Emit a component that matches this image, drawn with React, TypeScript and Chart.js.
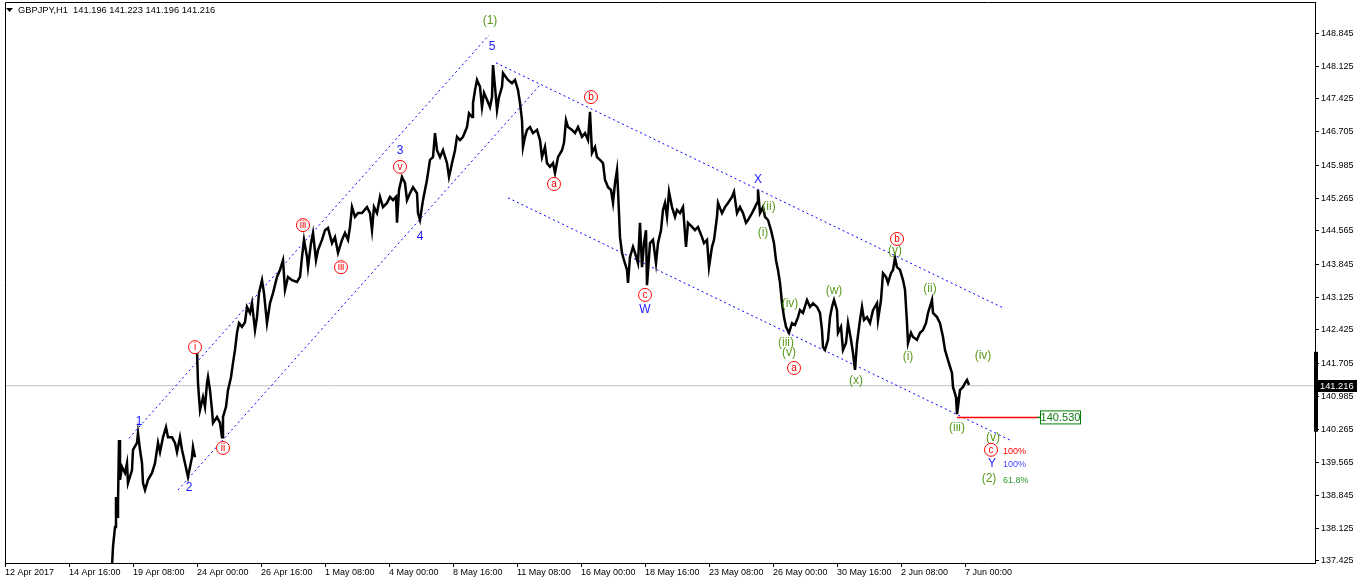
import { useEffect, useRef } from "react";
import { Chart, registerables } from "chart.js";

Chart.register(...registerables);

// ---------- header ----------
const SYMBOL = "GBPJPY,H1";
const OHLC = ["141.196", "141.223", "141.196", "141.216"];

// ---------- axes ----------
const xTickHours = [0, 64, 128, 192, 256, 320, 384, 448, 512, 576, 640, 704, 768, 832, 896, 960];
const xTickLabels = [
  "12 Apr 2017", "14 Apr 16:00", "19 Apr 08:00", "24 Apr 00:00", "26 Apr 16:00", "1 May 08:00",
  "4 May 00:00", "8 May 16:00", "11 May 08:00", "16 May 00:00", "18 May 16:00", "23 May 08:00",
  "26 May 00:00", "30 May 16:00", "2 Jun 08:00", "7 Jun 00:00",
];
const yTickValues = [
  148.845, 148.125, 147.425, 146.705, 145.985, 145.265, 144.565, 143.845, 143.125,
  142.425, 141.705, 140.985, 140.265, 139.565, 138.845, 138.125, 137.425,
];
const Y_MIN = 137.381;
const Y_MAX = 149.516;
const X_MIN = 0;
const X_MAX = 1310;

// ---------- price (hour index since 12 Apr 2017 00:00, price) ----------
const priceHours = [
  106, 108, 110, 111, 112, 113, 114, 115, 117, 120, 122, 123, 127, 128, 132, 133, 135, 137, 138, 140,
  143, 147, 150, 153, 155, 158, 161, 163, 167, 170, 172, 175, 177, 180, 183, 187, 188, 190, 191,
  192, 193, 194, 195, 198, 200, 202, 203, 205, 207, 208, 212, 215, 217, 218, 221, 223, 226, 228, 230,
  232, 234, 237, 240, 242, 245, 247, 250, 252, 254, 257, 259, 262, 265, 268, 272, 275, 278, 280, 283,
  287, 292, 295, 297, 299, 302, 303, 306, 308, 311, 313, 317, 320, 323, 327, 330, 333, 337, 340, 343,
  345, 347, 350, 353, 357, 362, 365, 367, 369, 372, 375, 378, 382, 385, 388, 391, 392, 394, 397, 400,
  402, 405, 408, 412, 413, 415, 418, 422, 425, 428, 430, 432, 435, 438, 442, 444, 447, 450, 452, 455,
  458, 462, 464, 467, 468, 470, 472, 475, 477, 479, 482, 485, 487, 488, 490, 492, 494, 497, 498, 501,
  503, 507, 510, 513, 515, 517, 518, 520, 522, 525, 528, 532, 535, 537, 540, 542, 545, 548, 550, 553,
  557, 559, 561, 563, 567, 570, 573, 577, 580, 583, 585, 587, 590, 592, 595, 598, 600, 603, 606, 608,
  610, 612, 613, 615, 617, 619, 622, 623, 625, 628, 630, 633, 635, 637, 639, 641, 642, 645, 648, 651,
  653, 656, 658, 660, 662, 664, 667, 670, 672, 675, 678, 681, 683, 687, 690, 693, 697, 699, 702, 704,
  707, 709, 712, 713, 717, 720, 723, 727, 729, 732, 735, 738, 741, 743, 747, 750, 752, 753, 755, 758,
  760, 763, 766, 769, 771, 773, 775, 777, 779, 781, 784, 787, 790, 793, 795, 798, 802, 805, 808, 812,
  815, 817, 818, 820, 823, 825, 827, 829, 832, 833, 836, 838, 841, 843, 846, 848, 850, 852, 855, 857,
  859, 862, 865, 868, 872, 873, 876, 878, 881, 883, 886, 888, 890, 892, 895, 898, 900, 902, 903, 906,
  908, 912, 915, 918, 921, 923, 927, 928, 932, 935, 938, 940, 943, 947, 948, 951, 952, 953, 955, 958,
  960, 962, 964,
];
const priceValues: (number | null)[] = [
  136.90, 137.73, 138.16, 138.81, 138.38, 138.68, 140.04, 139.18, 139.46, 139.33, 139.54, 139.11, 139.39, 139.83, 139.98, 140.19, 139.83, 139.54, 139.11, 138.96,
  139.18, 139.33, 139.54, 139.98, 139.78, 140.10, 140.32, 140.10, 140.10, 139.98, 139.78, 140.10, 139.83, 139.54, 139.24, 139.67, 139.89, 139.67, null,
  141.99, 141.27, 140.97, 140.69, 140.97, 140.76, 141.27, 141.40, 141.12, 140.69, 140.41, 140.54, 140.41, 140.10, 140.54, 140.76, 141.12, 141.40, 141.71, 141.99,
  142.36, 142.57, 142.49, 142.59, 142.92, 142.79, 143.00, 142.42, 142.70, 143.22, 143.50, 143.22, 142.57, 143.00, 143.22, 143.57, 143.72, 143.93, 143.29, 143.57,
  143.50, 143.46, 143.57, 144.00, 144.37, 144.00, 143.78, 144.30, 144.52, 143.93, 144.15, 144.37, 144.58, 144.63, 144.30, 144.43, 144.09, 144.37, 144.52, 144.37,
  144.65, 145.08, 144.87, 144.95, 144.95, 145.08, 144.95, 144.58, 145.08, 144.95, 145.30, 145.08, 145.17, 145.30, 145.23, 145.30, 144.74, 145.45, 145.73, 145.60,
  145.23, 145.38, 145.51, 145.38, 144.95, 144.80, 145.23, 145.67, 146.10, 146.16, 146.68, 146.31, 146.16, 146.31, 146.03, 145.73, 146.03, 146.31, 146.60, 146.53,
  146.60, 146.81, 147.11, 147.03, 147.33, 147.61, 147.83, 147.68, 147.24, 147.55, 147.40, 147.24, 147.46, 148.15, 147.68, 147.18, 147.46, 147.68, 147.98, 147.89,
  147.83, 147.76, 147.83, 147.61, 147.33, 146.96, 146.38, 146.60, 146.75, 146.81, 146.68, 146.75, 146.53, 146.16, 146.38, 146.03, 145.95, 146.03, 145.82, 146.16,
  146.31, 146.47, 146.96, 146.81, 146.75, 146.68, 146.81, 146.60, 146.68, 146.53, 147.14, 146.25, 146.38, 146.16, 146.10, 146.03, 145.67, 145.51, 145.45, 145.17,
  145.60, 145.88, 145.45, 144.43, 144.09, 143.93, 143.72, 143.44, 144.00, 144.22, 144.09, 143.87, 144.74, 143.78, 144.30, 144.58, 143.39, 144.30, 144.37, 143.87,
  144.30, 144.58, 145.02, 145.17, 144.87, 145.41, 145.08, 144.87, 145.02, 144.95, 145.08, 144.22, 144.74, 144.65, 144.58, 144.65, 144.43, 144.30, 144.37, 143.78,
  144.22, 144.37, 144.87, 145.17, 144.95, 145.08, 145.17, 145.30, 145.41, 144.95, 145.08, 144.95, 144.74, 144.80, 144.95, 145.08, 145.17, 145.45, 144.95, 145.08,
  144.87, 144.80, 144.58, 144.30, 143.93, 143.72, 143.44, 143.00, 142.70, 142.49, 142.36, 142.57, 142.53, 142.70, 142.85, 142.79, 143.07, 142.92, 143.00, 142.92,
  142.79, 142.42, 142.05, 141.99, 142.21, 142.70, 142.92, 143.07, 142.85, 142.36, 142.49, 141.99, 142.14, 142.57, 142.21, 141.92, 141.56, 142.14, 142.64, 142.92,
  142.64, 142.70, 142.57, 142.85, 143.00, 142.64, 143.07, 143.65, 143.57, 143.44, 143.65, 143.72, 143.98, 143.78, 143.72, 143.50, 143.29, 142.57, 142.14, 142.36,
  142.27, 142.21, 142.36, 142.42, 142.57, 142.79, 143.07, 142.79, 142.70, 142.57, 142.27, 141.99, 141.77, 141.49, 141.19, 140.97, 140.60, 140.76, 141.12, 141.19,
  141.27, 141.34, 141.23,
];

const CURRENT_PRICE = 141.216;
const TARGET_PRICE = 140.53;
const TARGET_HOURS = [952, 1032];
const TARGET_LINK_HOURS = [1032, 1035];
const TARGET_LABEL_HOUR = 1035;
const AXIS_BAR_PRICES = [141.95, 140.22];

// ---------- channel lines ----------
const upChannelTopHours = [124, 484];
const upChannelTopPrices = [140.08, 148.8];
const upChannelBottomHours = [173, 535];
const upChannelBottomPrices = [138.96, 147.72];
const downChannelTopHours = [491, 998];
const downChannelTopPrices = [148.2, 142.9];
const downChannelBottomHours = [503, 1005];
const downChannelBottomPrices = [145.28, 140.04];

// ---------- wave labels ----------
const blueWaveTexts = ["5", "3", "4", "1", "2", "W", "X", "Y"];
const blueWaveHours = [487, 395, 415, 134, 184, 640, 753, 987];
const blueWavePrices = [148.54, 146.29, 144.43, 140.43, 139.0, 142.85, 145.67, 139.52];

const redCircleTexts = ["i", "ii", "iii", "iii", "v", "a", "b", "c", "a", "b", "c"];
const redCircleHours = [190, 218, 298, 336, 395, 549, 586, 640, 789, 892, 986];
const redCirclePrices = [142.05, 139.87, 144.69, 143.78, 145.95, 145.58, 147.46, 143.18, 141.6, 144.39, 139.83];

const greenWaveTexts = ["(1)", "(ii)", "(i)", "(iv)", "(iii)", "(v)", "(w)", "(x)", "(y)", "(i)", "(ii)", "(iv)", "(iii)", "(v)", "(2)"];
const greenWaveHours = [485, 764, 758, 785, 781, 784, 829, 851, 890, 903, 925, 978, 952, 988, 984];
const greenWavePrices = [149.11, 145.08, 144.52, 142.98, 142.14, 141.92, 143.27, 141.32, 144.13, 141.84, 143.31, 141.86, 140.3, 140.09, 139.2];

const percentTexts = ["100%", "100%", "61.8%"];
const percentHour = 998;
const percentPrices = [139.8, 139.52, 139.17];

const BLUE = "#1a1aff";
const RED = "#ff0000";
const GREEN = "#5a9a1e";
const FONT = '"Liberation Sans", Arial, sans-serif';

const pts = (xs: number[], ys: (number | null)[]) => xs.map((x, i) => ({ x, y: ys[i] }));

const overlayPlugin = {
  id: "ewOverlay",
  afterDatasetsDraw(chart: any) {
    const { ctx, chartArea: a, scales } = chart;
    const xs = scales.x;
    const ys = scales.y;
    const px = (h: number) => xs.getPixelForValue(h);
    const py = (p: number) => ys.getPixelForValue(p);
    ctx.save();

    // frame left & top
    ctx.strokeStyle = "#000";
    ctx.lineWidth = 1;
    ctx.beginPath();
    ctx.moveTo(a.left + 0.5, a.bottom);
    ctx.lineTo(a.left + 0.5, a.top + 0.5);
    ctx.lineTo(a.right, a.top + 0.5);
    ctx.stroke();

    ctx.textAlign = "center";
    ctx.textBaseline = "middle";

    // blue labels
    ctx.font = `12px ${FONT}`;
    ctx.fillStyle = BLUE;
    blueWaveTexts.forEach((t, i) => ctx.fillText(t, px(blueWaveHours[i]), py(blueWavePrices[i])));

    // green labels
    ctx.fillStyle = GREEN;
    greenWaveTexts.forEach((t, i) => ctx.fillText(t, px(greenWaveHours[i]), py(greenWavePrices[i])));

    // red circled labels
    ctx.font = `10px ${FONT}`;
    ctx.strokeStyle = RED;
    ctx.fillStyle = RED;
    redCircleTexts.forEach((t, i) => {
      const cx = px(redCircleHours[i]);
      const cy = py(redCirclePrices[i]);
      ctx.fillStyle = "#fff";
      ctx.beginPath();
      ctx.arc(cx, cy, 6.5, 0, Math.PI * 2);
      ctx.fill();
      ctx.stroke();
      ctx.fillStyle = RED;
      ctx.fillText(t, cx, cy + 0.5);
    });

    // percent labels
    ctx.font = `9px ${FONT}`;
    ctx.textAlign = "left";
    const pColors = [RED, "#4848ff", "#2f9a2f"];
    percentTexts.forEach((t, i) => {
      ctx.fillStyle = pColors[i];
      ctx.fillText(t, px(percentHour), py(percentPrices[i]));
    });

    // target box
    const bx = px(TARGET_LABEL_HOUR);
    const by = py(TARGET_PRICE);
    ctx.fillStyle = "#fff";
    ctx.fillRect(bx, by - 6.5, 41, 13);
    ctx.strokeStyle = "#008000";
    ctx.strokeRect(bx + 0.5, by - 6.5, 40, 13);
    ctx.fillStyle = "#107a10";
    ctx.font = `11px ${FONT}`;
    ctx.textAlign = "center";
    ctx.fillText(TARGET_PRICE.toFixed(3), bx + 20.5, by + 0.5);

    ctx.restore();
  },
  afterDraw(chart: any) {
    const { ctx, chartArea: a, scales } = chart;
    const ys = scales.y;
    ctx.save();
    // header
    ctx.fillStyle = "#000";
    ctx.beginPath();
    ctx.moveTo(6, 8);
    ctx.lineTo(13, 8);
    ctx.lineTo(9.5, 12);
    ctx.closePath();
    ctx.fill();
    ctx.font = `9.3px ${FONT}`;
    ctx.textAlign = "left";
    ctx.textBaseline = "middle";
    ctx.fillText(`${SYMBOL}  ${OHLC.join(" ")}`, 18, 10.5);

    // axis bar
    const t = ys.getPixelForValue(AXIS_BAR_PRICES[0]);
    const b = ys.getPixelForValue(AXIS_BAR_PRICES[1]);
    ctx.fillRect(a.right - 1, t, 4, b - t);

    // current price label
    const cy = ys.getPixelForValue(CURRENT_PRICE);
    ctx.fillStyle = "#000";
    ctx.fillRect(a.right + 1, Math.round(cy) - 6, chart.width - a.right - 2, 12);
    ctx.fillStyle = "#fff";
    ctx.fillText(CURRENT_PRICE.toFixed(3), a.right + 5, Math.round(cy) + 0.5);
    ctx.restore();
  },
};

export default function App() {
  const ref = useRef<HTMLCanvasElement | null>(null);

  useEffect(() => {
    document.body.style.margin = "0";
    const canvas = ref.current;
    if (!canvas) return;
    const lineDs = (data: any[], color: string, width: number, dash: number[] = [], order = 1) => ({
      data,
      borderColor: color,
      borderWidth: width,
      borderDash: dash,
      pointRadius: 0,
      tension: 0,
      fill: false,
      order,
    });
    const chart = new Chart(canvas, {
      type: "line",
      data: {
        datasets: [
          lineDs(
            [
              { x: X_MIN, y: CURRENT_PRICE },
              { x: X_MAX, y: CURRENT_PRICE },
            ],
            "#c0c0c0",
            1,
            [],
            10
          ),
          lineDs(pts(upChannelTopHours, upChannelTopPrices), "#0000ff", 1, [2, 3], 5),
          lineDs(pts(upChannelBottomHours, upChannelBottomPrices), "#0000ff", 1, [2, 3], 5),
          lineDs(pts(downChannelTopHours, downChannelTopPrices), "#0000ff", 1, [2, 3], 5),
          lineDs(pts(downChannelBottomHours, downChannelBottomPrices), "#0000ff", 1, [2, 3], 5),
          { ...lineDs(pts(priceHours, priceValues), "#000", 2.5, [], 2), spanGaps: false },
          lineDs(pts(TARGET_HOURS, [TARGET_PRICE, TARGET_PRICE]), "#ff0000", 1.5, [], 1),
          lineDs(pts(TARGET_LINK_HOURS, [TARGET_PRICE, TARGET_PRICE]), "#008000", 1.5, [], 1),
        ] as any,
      },
      options: {
        responsive: false,
        animation: false,
        devicePixelRatio: 1,
        parsing: false as any,
        normalized: true,
        layout: { padding: { left: 5, top: 2, right: 0, bottom: 0 } },
        plugins: { legend: { display: false }, tooltip: { enabled: false } },
        events: [],
        scales: {
          x: {
            type: "linear",
            min: X_MIN,
            max: X_MAX,
            position: "bottom",
            grid: { drawOnChartArea: false, drawTicks: true, tickLength: 4, color: "#000" },
            border: { display: true, color: "#000" },
            ticks: {
              autoSkip: false,
              maxRotation: 0,
              align: "start",
              padding: 0,
              color: "#000",
              font: { family: FONT, size: 9 },
              callback: (_v: any, i: number) => xTickLabels[i],
            },
            afterBuildTicks: (s: any) => {
              s.ticks = xTickHours.map((v) => ({ value: v }));
            },
            afterFit: (s: any) => {
              s.height = 21;
              s.paddingLeft = 0;
              s.paddingRight = 0;
            },
          },
          y: {
            type: "linear",
            position: "right",
            min: Y_MIN,
            max: Y_MAX,
            grid: { drawOnChartArea: false, drawTicks: true, tickLength: 4, color: "#000" },
            border: { display: true, color: "#000" },
            ticks: {
              autoSkip: false,
              padding: 2,
              color: "#000",
              font: { family: FONT, size: 9 },
              callback: (v: any) => Number(v).toFixed(3),
            },
            afterBuildTicks: (s: any) => {
              s.ticks = yTickValues.map((v) => ({ value: v }));
            },
            afterFit: (s: any) => {
              s.width = 43;
              s.paddingTop = 0;
              s.paddingBottom = 0;
            },
          },
        },
      } as any,
      plugins: [overlayPlugin],
    });
    return () => chart.destroy();
  }, []);

  return (
    <div style={{ width: 1358, height: 584, background: "#fff" }}>
      <canvas ref={ref} width={1358} height={584} style={{ display: "block" }} />
    </div>
  );
}
